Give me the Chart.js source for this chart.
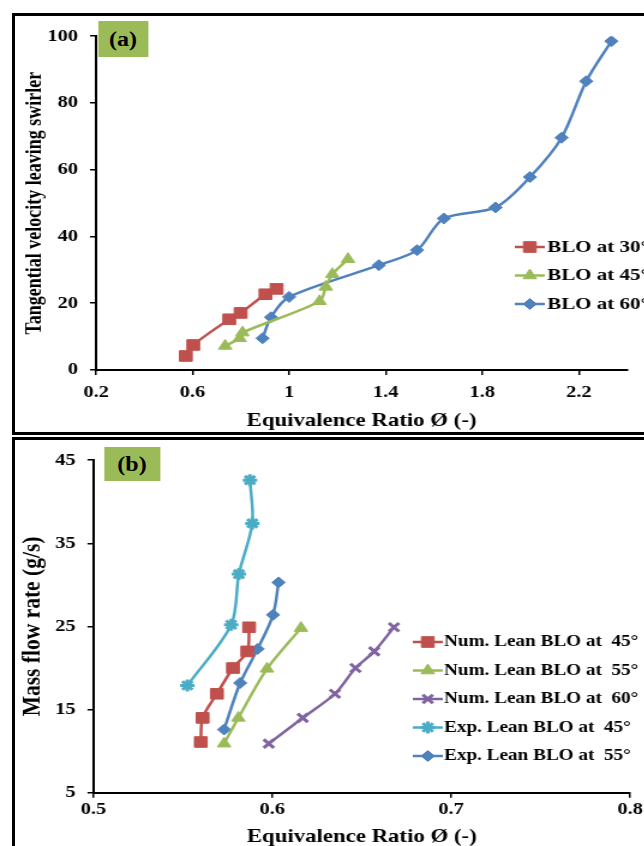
<!DOCTYPE html>
<html>
<head>
<meta charset="utf-8">
<script src="https://cdn.jsdelivr.net/npm/chart.js@4.4.0/dist/chart.umd.min.js"></script>
<style>
  html, body { margin: 0; padding: 0; background: #fff; }
  body { width: 644px; height: 846px; overflow: hidden; position: relative; }
  .frame { position: absolute; left: 12px; width: 700px; border: 3px solid #000; box-sizing: border-box; }
  .panel { position: absolute; left: 0; width: 545px; transform: scaleX(1.2); transform-origin: 0 0; }
  .tag { position: absolute; background: #9BBB59; color: #000; font: bold 20px 'Liberation Serif', serif;
         display: flex; align-items: center; justify-content: center; }
</style>
</head>
<body>
<div class="frame" style="top:13px;height:422px"></div>
<div class="frame" style="top:437px;height:430px"></div>

<div class="panel" style="top:16px;height:416px">
  <canvas id="chartA" width="545" height="416"></canvas>
  <div class="tag" style="left:82px;top:5px;width:41px;height:36px">(a)</div>
</div>
<div class="panel" style="top:440px;height:410px">
  <canvas id="chartB" width="545" height="410"></canvas>
  <div class="tag" style="left:87px;top:7px;width:46px;height:34px">(b)</div>
</div>

<script>
const FONT = "'Liberation Serif', 'Times New Roman', serif";

// (a) tangential velocity vs equivalence ratio
const phiA30 = [0.572, 0.603, 0.752, 0.799, 0.902, 0.948];
const velA30 = [4.2, 7.5, 15.2, 17.1, 22.7, 24.3];
const phiA45 = [0.735, 0.795, 0.807, 1.126, 1.152, 1.179, 1.244];
const velA45 = [7.2, 9.5, 11.2, 20.6, 24.9, 28.7, 33.2];
const phiA60 = [0.890, 0.925, 1.0, 1.372, 1.530, 1.641, 1.855, 1.998, 2.129, 2.231, 2.335];
const velA60 = [9.5, 15.8, 21.9, 31.4, 35.9, 45.4, 48.7, 57.8, 69.6, 86.5, 98.5];
const xTicksA = [0.2, 0.6, 1, 1.4, 1.8, 2.2];
const yTicksA = [0, 20, 40, 60, 80, 100];

// (b) mass flow rate vs equivalence ratio
const phiNum45 = [0.560, 0.561, 0.569, 0.578, 0.586, 0.587];
const mfrNum45 = [11.1, 14.0, 16.9, 20.0, 22.0, 24.9];
const phiNum55 = [0.573, 0.581, 0.597, 0.616];
const mfrNum55 = [10.9, 14.0, 19.9, 24.8];
const phiNum60 = [0.598, 0.617, 0.635, 0.6465, 0.657, 0.668];
const mfrNum60 = [10.9, 14.0, 16.9, 20.0, 22.0, 24.9];
const phiExp45 = [0.5525, 0.577, 0.5813, 0.5888, 0.5875];
const mfrExp45 = [17.9, 25.2, 31.3, 37.4, 42.6];
const phiExp55 = [0.573, 0.582, 0.5918, 0.6004, 0.6035];
const mfrExp55 = [12.6, 18.2, 22.3, 26.4, 30.3];
const xTicksB = [0.5, 0.6, 0.7, 0.8];
const yTicksB = [5, 15, 25, 35, 45];

const RED = '#C0504D', GREEN = '#9BBB59', BLUE = '#4F81BD', PURPLE = '#8064A2', CYAN = '#4BACC6';

function series(label, xs, ys, color, style, radius, pbw) {
  return {
    label: label,
    data: xs.map((x, i) => ({ x: x, y: ys[i] })),
    borderColor: color,
    backgroundColor: color,
    borderWidth: 2.5,
    pointStyle: style,
    pointRadius: radius,
    pointBorderWidth: pbw,
    tension: 0.3,
    fill: false
  };
}

// legend drawn inside the plot, like the original
const insideLegend = {
  id: 'insideLegend',
  afterDatasetsDraw(chart, args, o) {
    const ctx = chart.ctx;
    ctx.save();
    ctx.font = o.font;
    ctx.textBaseline = 'middle';
    chart.data.datasets.forEach((ds, i) => {
      const y = o.y0 + i * o.gap;
      ctx.strokeStyle = ds.borderColor;
      ctx.lineWidth = ds.borderWidth;
      ctx.beginPath();
      ctx.moveTo(o.x0, y);
      ctx.lineTo(o.x1, y);
      ctx.stroke();
      ctx.fillStyle = ds.backgroundColor;
      ctx.lineWidth = ds.pointBorderWidth;
      Chart.helpers.drawPoint(ctx, { pointStyle: ds.pointStyle, radius: ds.pointRadius,
        borderWidth: ds.pointBorderWidth, rotation: 0 }, (o.x0 + o.x1) / 2, y);
      ctx.fillStyle = '#000';
      ctx.fillText(ds.label, o.tx, y);
    });
    ctx.restore();
  }
};

function makeChart(id, cfg) {
  const tickFont = { family: FONT, size: 17, weight: 'bold' };
  return new Chart(document.getElementById(id), {
    type: 'line',
    data: { datasets: cfg.datasets },
    options: {
      responsive: false,
      animation: false,
      layout: { padding: cfg.pad },
      plugins: {
        legend: { display: false },
        tooltip: { enabled: false },
        insideLegend: cfg.legend
      },
      scales: {
        x: {
          type: 'linear', min: cfg.xMin, max: cfg.xMax,
          afterBuildTicks: s => { s.ticks = cfg.xTicks.map(v => ({ value: v })); },
          afterFit: s => { s.height = cfg.xH; },
          grid: { drawOnChartArea: false, drawTicks: true, tickLength: 5, color: '#000', lineWidth: 1.5 },
          border: { color: '#000', width: 2 },
          ticks: { color: '#000', font: tickFont, padding: cfg.xPad, maxRotation: 0, autoSkip: false,
                   callback: v => String(v) },
          title: { display: true, text: 'Equivalence Ratio Ø (-)', color: '#000',
                   font: { family: FONT, size: 19, weight: 'bold' }, padding: { top: 0, bottom: cfg.xTitlePad } }
        },
        y: {
          type: 'linear', min: cfg.yMin, max: cfg.yMax,
          afterBuildTicks: s => { s.ticks = cfg.yTicks.map(v => ({ value: v })); },
          afterFit: s => { s.width = cfg.yW; },
          grid: { drawOnChartArea: false, drawTicks: true, tickLength: 5, color: '#000', lineWidth: 1.5 },
          border: { color: '#000', width: 2 },
          ticks: { color: '#000', font: tickFont, padding: 10, autoSkip: false },
          title: { display: true, text: cfg.yTitle, color: '#000',
                   font: { family: FONT, size: cfg.yTitleSize, weight: 'bold' }, padding: { top: cfg.yTitlePad, bottom: 0 } }
        }
      }
    },
    plugins: [insideLegend]
  });
}

makeChart('chartA', {
  datasets: [
    series('BLO at 30°', phiA30, velA30, RED, 'rect', 7.5, 1),
    series('BLO at 45°', phiA45, velA45, GREEN, 'triangle', 6.5, 1),
    series('BLO at 60°', phiA60, velA60, BLUE, 'rectRot', 5.5, 1)
  ],
  pad: { left: 10, top: 19.7, right: 22.5, bottom: 0 },
  xMin: 0.2, xMax: 2.4, xTicks: xTicksA, xH: 62, xPad: 7, xTitlePad: 0,
  yMin: 0, yMax: 100, yTicks: yTicksA, yW: 70,
  yTitle: 'Tangential velocity leaving swirler', yTitleSize: 18, yTitlePad: 9,
  legend: { font: 'bold 17.5px ' + FONT, x0: 429, x1: 454, tx: 456, y0: 231, gap: 28.5 }
});

makeChart('chartB', {
  datasets: [
    series('Num. Lean BLO at  45°', phiNum45, mfrNum45, RED, 'rect', 7.5, 1),
    series('Num. Lean BLO at  55°', phiNum55, mfrNum55, GREEN, 'triangle', 6.5, 1),
    series('Num. Lean BLO at  60°', phiNum60, mfrNum60, PURPLE, 'crossRot', 6, 3),
    series('Exp. Lean BLO at  45°', phiExp45, mfrExp45, CYAN, 'star', 6, 3),
    series('Exp. Lean BLO at  55°', phiExp55, mfrExp55, BLUE, 'rectRot', 5.5, 1)
  ],
  pad: { left: 10, top: 19, right: 20, bottom: 0 },
  xMin: 0.5, xMax: 0.8, xTicks: xTicksB, xH: 57.3, xPad: 2, xTitlePad: 1.6,
  yMin: 5, yMax: 45, yTicks: yTicksB, yW: 67.9,
  yTitle: 'Mass flow rate (g/s)', yTitleSize: 21.5, yTitlePad: 5,
  legend: { font: 'bold 16px ' + FONT, x0: 344, x1: 369, tx: 370, y0: 202, gap: 28.5 }
});
</script>
</body>
</html>
